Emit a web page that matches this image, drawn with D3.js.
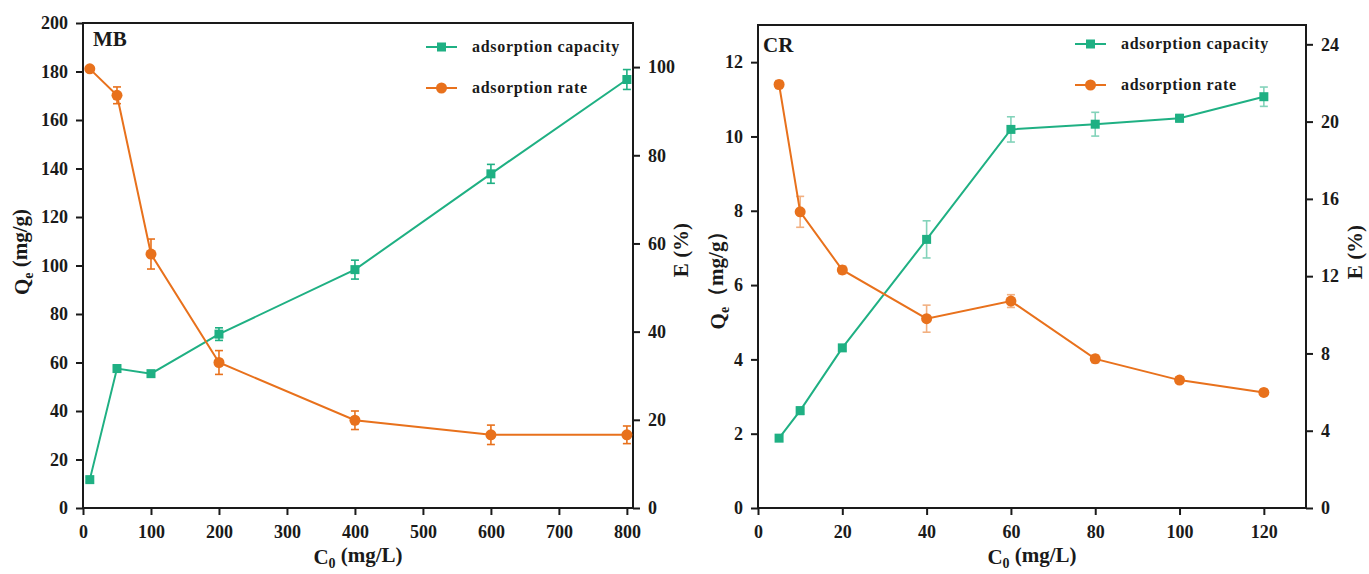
<!DOCTYPE html>
<html>
<head>
<meta charset="utf-8">
<script src="https://cdn.jsdelivr.net/npm/d3@7"></script>
<style>
  body { margin: 0; background: #fff; }
  svg text { font-family: "Liberation Serif", "Times New Roman", serif; font-weight: bold; fill: #1a1a1a; }
</style>
</head>
<body>
<div id="chart-area"></div>
<script>
// MB panel data
var mbConc = [10, 50, 100, 200, 400, 600, 800];
var mbCapacity = [11.7, 57.5, 55.4, 71.7, 98.3, 137.8, 176.7];
var mbCapacityErr = [1.0, 1.5, 1.0, 2.6, 3.9, 3.9, 4.1];
var mbRate = [99.6, 93.6, 57.6, 33.0, 19.9, 16.6, 16.6];
var mbRateErr = [0.5, 1.9, 3.4, 2.7, 2.1, 2.2, 2.0];
var mbXTicks = [0, 100, 200, 300, 400, 500, 600, 700, 800];
var mbQTicks = [0, 20, 40, 60, 80, 100, 120, 140, 160, 180, 200];
var mbETicks = [0, 20, 40, 60, 80, 100];

// CR panel data
var crConc = [5, 10, 20, 40, 60, 80, 100, 120];
var crCapacity = [1.88, 2.62, 4.31, 7.23, 10.19, 10.33, 10.49, 11.07];
var crCapacityErr = [0.08, 0.1, 0.08, 0.5, 0.34, 0.32, 0.1, 0.26];
var crRate = [21.92, 15.33, 12.32, 9.80, 10.71, 7.72, 6.62, 5.98];
var crRateErr = [0.2, 0.8, 0.2, 0.7, 0.33, 0.2, 0.15, 0.15];
var crXTicks = [0, 20, 40, 60, 80, 100, 120];
var crQTicks = [0, 2, 4, 6, 8, 10, 12];
var crETicks = [0, 4, 8, 12, 16, 20, 24];

var green = "#1fb083", orange = "#e8711c";

var svg = d3.select("#chart-area").append("svg")
  .attr("width", 1369).attr("height", 574);

function panel(o) {
  var g = svg.append("g");
  var x = d3.scaleLinear().domain(o.xDom).range([o.left, o.right]);
  var yq = d3.scaleLinear().domain(o.qDom).range([o.bottom, o.top]);
  var ye = d3.scaleLinear().domain(o.eDom).range([o.bottom, o.top]);

  // frame
  g.append("rect").attr("x", o.left).attr("y", o.top)
    .attr("width", o.right - o.left).attr("height", o.bottom - o.top)
    .attr("fill", "none").attr("stroke", "#1a1a1a").attr("stroke-width", 2);

  var xa = g.append("g").attr("transform", "translate(0," + o.bottom + ")")
    .call(d3.axisBottom(x).tickValues(o.xTicks).tickSize(7).tickSizeOuter(0).tickPadding(10));
  var la = g.append("g").attr("transform", "translate(" + o.left + ",0)")
    .call(d3.axisLeft(yq).tickValues(o.qTicks).tickSize(7).tickSizeOuter(0).tickPadding(8));
  var ra = g.append("g").attr("transform", "translate(" + o.right + ",0)")
    .call(d3.axisRight(ye).tickValues(o.eTicks).tickSize(7).tickSizeOuter(0).tickPadding(8));
  [xa, la, ra].forEach(function(a) {
    a.select(".domain").remove();
    a.selectAll(".tick line").attr("stroke", "#1a1a1a").attr("stroke-width", 2);
    a.selectAll(".tick text").style("font-size", "18px").attr("fill", "#1a1a1a");
  });

  function series(xs, ys, errs, scale, color, shape, errOpacity) {
    var pts = xs.map(function(d, i) { return { x: d, y: ys[i], e: errs[i] }; });
    g.append("path").datum(pts)
      .attr("fill", "none").attr("stroke", color).attr("stroke-width", 2)
      .attr("d", d3.line().x(function(d) { return x(d.x); }).y(function(d) { return scale(d.y); }));
    var eb = g.append("g").attr("stroke", color).attr("stroke-width", 1.6).attr("opacity", errOpacity);
    pts.forEach(function(d) {
      var cx = x(d.x), y1 = scale(d.y + d.e), y2 = scale(d.y - d.e);
      eb.append("line").attr("x1", cx).attr("x2", cx).attr("y1", y1).attr("y2", y2);
      eb.append("line").attr("x1", cx - 4).attr("x2", cx + 4).attr("y1", y1).attr("y2", y1);
      eb.append("line").attr("x1", cx - 4).attr("x2", cx + 4).attr("y1", y2).attr("y2", y2);
    });
    pts.forEach(function(d) { marker(g, x(d.x), scale(d.y), color, shape); });
  }

  series(o.conc, o.cap, o.capErr, yq, green, "square", o.errOpacity);
  series(o.conc, o.rate, o.rateErr, ye, orange, "circle", o.errOpacity);

  // panel tag
  g.append("text").attr("x", o.tagX).attr("y", o.tagY).style("font-size", "21px").text(o.tag);

  // legend
  var leg = [["adsorption capacity", green, "square"], ["adsorption rate", orange, "circle"]];
  leg.forEach(function(l, i) {
    var ly = o.legY + i * o.legGap;
    g.append("line").attr("x1", o.legX).attr("x2", o.legX + 31).attr("y1", ly).attr("y2", ly)
      .attr("stroke", l[1]).attr("stroke-width", 2);
    marker(g, o.legX + 15.5, ly, l[1], l[2]);
    g.append("text").attr("x", o.legX + 46).attr("y", ly + 5)
      .style("font-size", "16px").style("letter-spacing", "0.7px").text(l[0]);
  });

  // axis titles
  var xt = g.append("text").attr("x", (o.left + o.right) / 2).attr("y", 564)
    .attr("text-anchor", "middle").style("font-size", "21px");
  xt.append("tspan").text("C");
  xt.append("tspan").attr("dy", "0.25em").style("font-size", "14px").text("0");
  xt.append("tspan").attr("dy", "-0.25em").text(" (mg/L)");

  var qt = g.append("text").attr("transform", "translate(" + o.qTitleX + "," + o.qTitleY + ") rotate(-90)")
    .attr("text-anchor", "middle").style("font-size", "21px");
  qt.append("tspan").text("Q");
  qt.append("tspan").attr("dy", "0.3em").style("font-size", "14px").text("e");
  qt.append("tspan").attr("dy", "-0.3em").text(o.qUnit);

  g.append("text").attr("transform", "translate(" + o.eTitleX + "," + o.eTitleY + ") rotate(-90)")
    .attr("text-anchor", "middle").style("font-size", "21px").text("E (%)");
}

function marker(g, cx, cy, color, shape) {
  if (shape === "square") {
    g.append("rect").attr("x", cx - 4.5).attr("y", cy - 4.5).attr("width", 9).attr("height", 9).attr("fill", color);
  } else {
    g.append("circle").attr("cx", cx).attr("cy", cy).attr("r", 5.5).attr("fill", color);
  }
}

panel({
  left: 83, right: 633, top: 23, bottom: 508,
  xDom: [0, 809], qDom: [0, 200], eDom: [0, 110],
  xTicks: mbXTicks, qTicks: mbQTicks, eTicks: mbETicks,
  conc: mbConc, cap: mbCapacity, capErr: mbCapacityErr, rate: mbRate, rateErr: mbRateErr,
  errOpacity: 1,
  tag: "MB", tagX: 93, tagY: 46,
  legX: 426, legY: 47, legGap: 41,
  qTitleX: 29, qTitleY: 252, qUnit: " (mg/g)", eTitleX: 688, eTitleY: 250
});

panel({
  left: 758, right: 1306, top: 25, bottom: 508,
  xDom: [0, 130], qDom: [0, 13], eDom: [0, 25],
  xTicks: crXTicks, qTicks: crQTicks, eTicks: crETicks,
  conc: crConc, cap: crCapacity, capErr: crCapacityErr, rate: crRate, rateErr: crRateErr,
  errOpacity: 0.55,
  tag: "CR", tagX: 763, tagY: 52,
  legX: 1075, legY: 44, legGap: 41,
  qTitleX: 725, qTitleY: 275, qUnit: "（mg/g）", eTitleX: 1362, eTitleY: 252
});
</script>
</body>
</html>
